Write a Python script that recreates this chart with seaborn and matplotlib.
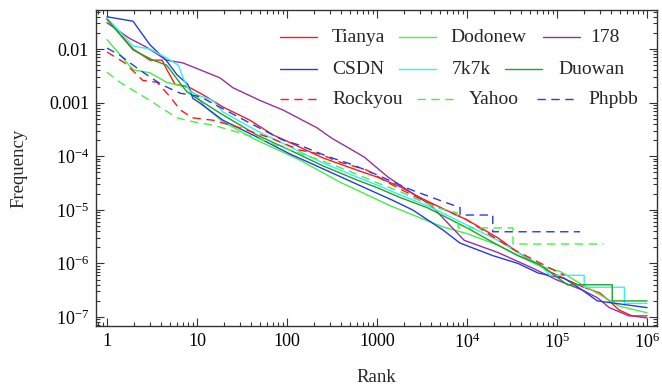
"""Rank-frequency (Zipf) plot of nine leaked password datasets, log-log axes."""
import matplotlib
matplotlib.use("Agg")
import matplotlib.pyplot as plt
import pandas as pd
import seaborn as sns
from matplotlib import ticker
from matplotlib.lines import Line2D

# values (rank, frequency)
tianya_rank = [1, 1.95, 3.0, 4.1, 4.6, 5.7, 7.9, 11.7, 19.4, 38.7, 70, 108, 251, 600, 1000,
               1800, 3000, 5100, 10000, 22000, 36800, 83000, 130000, 190000, 300000,
               380000, 490000, 680000, 1e6]
tianya_freq = [0.036, 0.010, 0.0062, 0.0062, 0.0042, 0.0022, 0.0020, 0.0014, 8.3e-4, 4.7e-4,
               2.5e-4, 1.8e-4, 9.3e-5, 5.5e-5, 4.1e-5, 2.7e-5, 1.7e-5, 1.1e-5, 6.5e-6, 3.0e-6,
               1.6e-6, 7.0e-7, 4.9e-7, 3.7e-7, 2.8e-7, 2.0e-7, 1.35e-7, 1.05e-7, 9.6e-8]

dodonew_rank = [1, 1.95, 3.0, 4.6, 7.9, 10, 12.3, 19.4, 46, 139, 385, 646, 1390, 3000, 5400,
                10000, 22000, 36800, 64600, 110000, 190000, 300000, 490000, 1e6]
dodonew_freq = [0.015, 0.0041, 0.0036, 0.0024, 0.0019, 0.0013, 8.3e-4, 4.4e-4, 2.0e-4, 8.5e-5,
                3.3e-5, 2.2e-5, 1.2e-5, 7.1e-6, 4.8e-6, 3.6e-6, 2.2e-6, 1.4e-6, 8.9e-7, 7.0e-7,
                4.0e-7, 2.6e-7, 1.6e-7, 1.2e-7]

s178_rank = [1, 1.76, 2.7, 4.6, 7.0, 10.8, 18, 25, 50, 90, 215, 310, 718, 1320, 2400, 4000,
             9300, 22000, 51800, 100000, 190000, 280000, 380000, 630000, 1e6]
s178_freq = [0.031, 0.016, 0.011, 0.0062, 0.0055, 0.0041, 0.0029, 0.0019, 0.0011, 7.3e-4,
             3.4e-4, 2.2e-4, 9.7e-5, 4.1e-5, 2.1e-5, 1.2e-5, 2.7e-6, 1.6e-6, 8.4e-7, 4.9e-7,
             3.2e-7, 2.3e-7, 1.5e-7, 1.05e-7, 1.05e-7]

csdn_rank = [1, 1.95, 3.0, 4.6, 6.0, 7.9, 9.0, 10.8, 19.4, 46, 108, 180, 600, 1500, 2500,
             5400, 8350, 19300, 36800, 62000, 120000, 190000, 280000, 1e6]
csdn_freq = [0.040, 0.033, 0.012, 0.0060, 0.0033, 0.0022, 0.0012, 9.8e-4, 4.7e-4, 2.3e-4,
             1.1e-4, 7.5e-5, 3.0e-5, 1.5e-5, 9.9e-6, 4.2e-6, 2.4e-6, 1.4e-6, 1.0e-6, 6.6e-7,
             5.3e-7, 3.2e-7, 2.0e-7, 1.5e-7]

k7k7_rank = [1, 1.95, 3.0, 4.6, 6.2, 7.2, 8.4, 10, 15, 19.4, 46, 108, 251, 600, 1000, 1800,
             3600, 10000, 22000, 36800, 64600, 83000, 200000, 200000, 560000, 560000, 1e6]
k7k7_freq = [0.038, 0.0114, 0.010, 0.0068, 0.0050, 0.0026, 0.0016, 0.0014, 0.0011, 6.7e-4,
             3.0e-4, 1.5e-4, 7.5e-5, 4.1e-5, 2.9e-5, 1.9e-5, 1.2e-5, 5.2e-6, 2.7e-6, 1.6e-6,
             9.5e-7, 6.0e-7, 6.0e-7, 3.6e-7, 3.6e-7, 1.8e-7, 1.8e-7]

duowan_rank = [1, 1.95, 3.25, 4.6, 6.5, 7.7, 10.8, 19.4, 46, 108, 251, 600, 1000, 1800, 3600,
               10000, 22000, 36800, 64600, 130000, 410000, 410000, 1e6]
duowan_freq = [0.036, 0.0096, 0.0062, 0.0050, 0.0023, 0.0016, 0.0011, 5.9e-4, 2.5e-4, 1.3e-4,
               6.6e-5, 3.6e-5, 2.6e-5, 1.7e-5, 1.1e-5, 4.6e-6, 2.2e-6, 1.4e-6, 9.5e-7, 4.0e-7,
               4.0e-7, 2.0e-7, 2.0e-7]

rockyou_rank = [1, 1.58, 2.5, 3.6, 5.0, 6.5, 9.0, 15, 30, 65, 139, 232, 385, 774, 1290, 1940,
                2780, 5000, 10000, 18500, 33300, 62000, 120000]
rockyou_freq = [0.0088, 0.0055, 0.0026, 0.0024, 0.0013, 7.3e-4, 5.2e-4, 4.7e-4, 3.4e-4, 2.2e-4,
                1.3e-4, 1.1e-4, 7.8e-5, 5.5e-5, 3.3e-5, 2.3e-5, 1.7e-5, 1.1e-5, 6.5e-6, 3.3e-6,
                1.8e-6, 1.06e-6, 6.0e-7]

yahoo_rank = [1, 1.39, 1.95, 3.0, 4.2, 6.0, 9.0, 15, 23, 46, 108, 232, 464, 1000, 1800, 2500,
              4640, 7740, 8000, 32400, 32400, 330000]
yahoo_freq = [0.0037, 0.0024, 0.0017, 0.0011, 7.6e-4, 5.2e-4, 4.4e-4, 3.8e-4, 3.1e-4, 2.2e-4,
              1.3e-4, 8.5e-5, 5.5e-5, 3.2e-5, 2.2e-5, 1.7e-5, 1.1e-5, 8.8e-6, 4.6e-6, 4.6e-6,
              2.3e-6, 2.3e-6]

phpbb_rank = [1, 1.39, 1.95, 3.0, 4.2, 6.5, 10.8, 30, 90, 139, 278, 541, 1000, 1500, 2500,
              5000, 8350, 8350, 19300, 19300, 180000]
phpbb_freq = [0.0104, 0.0077, 0.0050, 0.0030, 0.0021, 0.0015, 0.0013, 5.2e-4, 2.0e-4, 1.6e-4,
              1.0e-4, 6.9e-5, 4.5e-5, 3.3e-5, 2.3e-5, 1.5e-5, 1.1e-5, 8.0e-6, 8.0e-6, 3.9e-6,
              3.9e-6]

# legend order, row by row as in the reference
sites = ["Tianya", "Dodonew", "178", "CSDN", "7k7k", "Duowan", "Rockyou", "Yahoo", "Phpbb"]
colors = {"Tianya": "#ff1a1a", "Dodonew": "#44f044", "178": "#9a2f9e",
          "CSDN": "#1f3cf0", "7k7k": "#30f0f8", "Duowan": "#1ea51e",
          "Rockyou": "#ff1a1a", "Yahoo": "#44f044", "Phpbb": "#1f3cf0"}
dashed = {"Rockyou", "Yahoo", "Phpbb"}

series = {
    "Tianya": (tianya_rank, tianya_freq), "Dodonew": (dodonew_rank, dodonew_freq),
    "178": (s178_rank, s178_freq), "CSDN": (csdn_rank, csdn_freq),
    "7k7k": (k7k7_rank, k7k7_freq), "Duowan": (duowan_rank, duowan_freq),
    "Rockyou": (rockyou_rank, rockyou_freq), "Yahoo": (yahoo_rank, yahoo_freq),
    "Phpbb": (phpbb_rank, phpbb_freq),
}
df = pd.concat([pd.DataFrame({"site": k, "rank": r, "freq": f}) for k, (r, f) in series.items()],
               ignore_index=True)

sns.set_theme(style="ticks")
plt.rcParams["font.family"] = ["Liberation Serif", "DejaVu Serif"]
plt.rcParams["mathtext.fontset"] = "custom"
plt.rcParams["mathtext.rm"] = "Liberation Serif"
plt.rcParams["mathtext.it"] = "Liberation Serif:italic"

W, H = 662, 386
fig = plt.figure(figsize=(W / 100, H / 100), dpi=100)
ax = fig.add_axes([0.145, 0.1554, 0.8475, 0.8187])

dash_map = {s: ((6, 4) if s in dashed else "") for s in sites}
sns.lineplot(data=df, x="rank", y="freq", hue="site", style="site", hue_order=sites,
             style_order=sites, palette=colors, dashes=dash_map, estimator=None, sort=False,
             linewidth=1.0, legend=False, ax=ax)

ax.set_xscale("log")
ax.set_yscale("log")
ax.set_xlim(0.755, 1.29e6)
ax.set_ylim(6.8e-8, 0.0535)

xt = [1, 10, 100, 1000, 1e4, 1e5, 1e6]
xl = ["1", "10", "100", "1000", r"$10^4$", r"$10^5$", r"$10^6$"]
yt = [1e-7, 1e-6, 1e-5, 1e-4, 1e-3, 1e-2]
yl = [r"$10^{-7}$", r"$10^{-6}$", r"$10^{-5}$", r"$10^{-4}$", "0.001", "0.01"]
ax.xaxis.set_major_locator(ticker.FixedLocator(xt))
ax.xaxis.set_major_formatter(ticker.FixedFormatter(xl))
ax.yaxis.set_major_locator(ticker.FixedLocator(yt))
ax.yaxis.set_major_formatter(ticker.FixedFormatter(yl))
ax.xaxis.set_minor_locator(ticker.LogLocator(base=10, subs=range(2, 10), numticks=20))
ax.yaxis.set_minor_locator(ticker.LogLocator(base=10, subs=range(2, 10), numticks=20))
ax.xaxis.set_minor_formatter(ticker.NullFormatter())
ax.yaxis.set_minor_formatter(ticker.NullFormatter())

ax.tick_params(which="both", direction="in", top=True, right=True, colors="#333333",
               labelcolor="black", labelsize=13, width=0.8)
ax.tick_params(which="major", length=6, pad=5)
ax.tick_params(which="minor", length=3)
for sp in ax.spines.values():
    sp.set_color("#333333")
    sp.set_linewidth(1.0)

ax.set_xlabel("Rank", fontsize=13.5)
ax.set_ylabel("Frequency", fontsize=13.5)
ax.xaxis.set_label_coords(0.5, -0.136)
ax.yaxis.set_label_coords(-0.122, 0.5)

# grid legend with centred cells like the reference: (handle start px, text start px, row y px)
legend_cells = {
    "Tianya": (280, 332, 37), "Dodonew": (399, 450, 37), "178": (543, 590, 37),
    "CSDN": (280, 332, 69), "7k7k": (399, 452, 69), "Duowan": (505, 558, 69),
    "Rockyou": (280, 332, 99), "Yahoo": (417, 469, 99), "Phpbb": (537, 588, 99),
}
for s, (hx, tx, ry) in legend_cells.items():
    yf = 1 - ry / H
    fig.add_artist(Line2D([hx / W, (hx + 37) / W], [yf, yf], transform=fig.transFigure,
                          color=colors[s], lw=1.0,
                          dashes=(6, 4) if s in dashed else (None, None)))
    fig.text(tx / W, yf, s, fontsize=14, ha="left", va="center")

fig.savefig("out.png", dpi=100)
